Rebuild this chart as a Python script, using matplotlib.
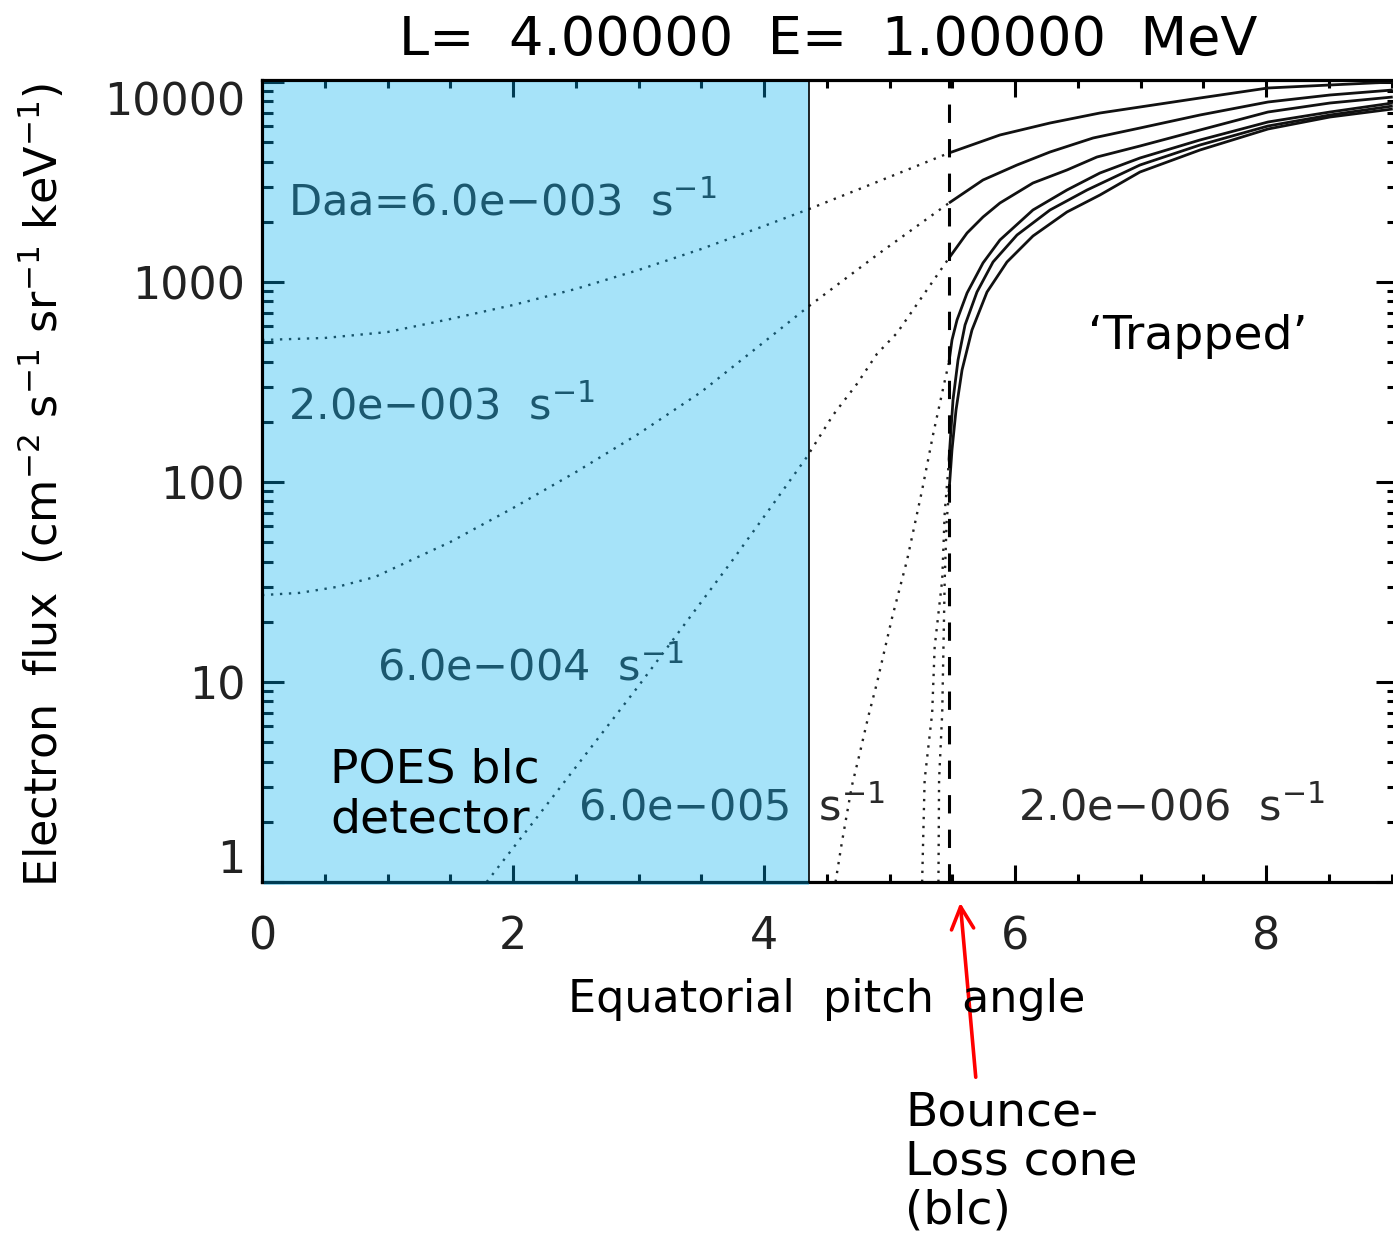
import matplotlib
matplotlib.use("Agg")
import matplotlib.pyplot as plt
from matplotlib.patches import Rectangle
from matplotlib.ticker import LogLocator, MultipleLocator, NullFormatter
import matplotlib.transforms as mtransforms

plt.rcParams['font.family'] = ['DejaVu Sans']
plt.rcParams['mathtext.fontset'] = 'dejavusans'

# ---------------- data ----------------
blc_angle = 5.474          # bounce loss cone edge (deg)
detector_edge = 4.36       # POES blc detector coverage (deg)

# loss-cone (dotted) parts
A_in_x = [0.0, 0.5, 1.0, 1.5, 2.0, 2.5, 3.0, 3.5, 4.0, 4.36, 4.9, 5.474]
A_in_y = [513, 525, 562, 653, 767, 923, 1148, 1462, 1905, 2317, 3162, 4416]
B_in_x = [0.0, 0.3, 0.6, 0.9, 1.19, 1.5, 2.0, 2.5, 3.0, 3.5, 4.0, 4.36, 4.9, 5.474]
B_in_y = [27.2, 27.9, 29.9, 33.5, 40.7, 50.1, 74.1, 112, 174, 282, 501, 759, 1365, 2483]
C_in_x = [1.79, 2.2, 2.6, 3.0, 3.4, 3.75, 4.05, 4.34, 4.55, 4.74, 4.9, 5.06, 5.22, 5.474]
C_in_y = [1.0, 2.14, 4.52, 9.55, 20.7, 40.7, 74.1, 133, 216, 309, 437, 556, 776, 1318]
D_in_x = [4.57, 4.62, 4.70, 4.76, 4.83, 4.90, 5.02, 5.14, 5.26, 5.35, 5.43, 5.474]
D_in_y = [1.0, 1.57, 3.02, 4.32, 6.68, 9.89, 20.9, 40.7, 91.2, 176, 299, 398]
E_in_x = [5.26, 5.28, 5.34, 5.36, 5.42, 5.44, 5.474]
E_in_y = [1.0, 3.24, 7.0, 15.0, 32.4, 70, 129]
F_in_x = [5.39, 5.395, 5.42, 5.43, 5.44, 5.455, 5.474]
F_in_y = [1.0, 3.24, 7.0, 15.0, 32.4, 63, 89]

# trapped (solid) parts
A_out_x = [5.474, 5.88, 6.279, 6.677, 6.996, 7.474, 8.016, 8.51, 9.01]
A_out_y = [4416, 5433, 6237, 6998, 7499, 8318, 9333, 9661, 10000]
B_out_x = [5.474, 5.745, 6.016, 6.279, 6.622, 6.996, 7.474, 8.016, 8.51, 9.01]
B_out_y = [2483, 3236, 3846, 4467, 5248, 5888, 6839, 7943, 8610, 9120]
C_out_x = [5.474, 5.618, 5.745, 5.88, 6.143, 6.414, 6.653, 6.996, 7.474, 8.016, 8.51, 9.01]
C_out_y = [1318, 1758, 2113, 2483, 3126, 3631, 4217, 4786, 5754, 7079, 7852, 8414]
D_out_x = [5.474, 5.498, 5.538, 5.618, 5.745, 5.88, 6.143, 6.414, 6.677, 6.996, 7.474, 8.016, 8.51, 9.01]
D_out_y = [398, 513, 646, 881, 1245, 1622, 2291, 2884, 3508, 4169, 5129, 6310, 7079, 7852]
E_out_x = [5.474, 5.49, 5.506, 5.546, 5.602, 5.697, 5.825, 6.016, 6.279, 6.574, 6.996, 7.474, 8.016, 8.51, 9.01]
E_out_y = [129, 182, 257, 407, 610, 891, 1259, 1718, 2291, 2884, 3846, 4842, 6026, 6839, 7586]
F_out_x = [5.474, 5.498, 5.53, 5.578, 5.657, 5.777, 5.936, 6.143, 6.414, 6.677, 6.996, 7.474, 8.016, 8.51, 9.01]
F_out_y = [89.1, 145, 229, 363, 575, 891, 1259, 1698, 2239, 2723, 3548, 4571, 5821, 6683, 7328]

curve_labels = ['Daa=6.0e\u2212003  s$^{-1}$', '2.0e\u2212003  s$^{-1}$', '6.0e\u2212004  s$^{-1}$',
                '6.0e\u2212005  s$^{-1}$', '2.0e\u2212006  s$^{-1}$']
label_x = [0.207, 0.207, 0.916, 2.518, 6.024]
label_y = [2483, 237, 11.7, 2.34, 2.34]

x_major = [0, 2, 4, 6, 8]
y_major = [1, 10, 100, 1000, 10000]
y_major_labels = ['1', '10', '100', '1000', '10000']

# ---------------- figure ----------------
W, H = 1393, 1248
fig = plt.figure(figsize=(W / 100, H / 100), dpi=100)
ax = fig.add_axes([262 / W, 1 - 882 / H, 9.05 * 125.5 / W, 802 / H])
ax.set_yscale('log')
ax.set_xlim(0, 9.05)
ax.set_ylim(1, 10 ** (802 / 200))

dot_style = (0, (1, 2.8))
ins = [(A_in_x, A_in_y), (B_in_x, B_in_y), (C_in_x, C_in_y), (D_in_x, D_in_y),
       (E_in_x, E_in_y), (F_in_x, F_in_y)]
outs = [(A_out_x, A_out_y), (B_out_x, B_out_y), (C_out_x, C_out_y), (D_out_x, D_out_y),
        (E_out_x, E_out_y), (F_out_x, F_out_y)]
for xs, ys in ins:
    ax.plot(xs, ys, color='#222222', lw=1.7, linestyle=dot_style, zorder=2)
for xs, ys in outs:
    ax.plot(xs, ys, color='#111111', lw=2.0, solid_capstyle='butt',
            solid_joinstyle='round', zorder=2)

ax.axvline(blc_angle, color='black', lw=2.2, linestyle=(0, (6, 5.3)), zorder=2.3)

for t, lx, ly in zip(curve_labels, label_x, label_y):
    ax.text(lx, ly, t, fontsize=31, color='#2a2a2a', ha='left', va='center', zorder=2.1)

# ticks
ax.set_xticks(x_major)
ax.set_xticklabels([str(v) for v in x_major])
ax.xaxis.set_minor_locator(MultipleLocator(0.5))
ax.set_yticks(y_major)
ax.set_yticklabels(y_major_labels)
ax.yaxis.set_minor_locator(LogLocator(base=10, subs=range(2, 10), numticks=20))
ax.yaxis.set_minor_formatter(NullFormatter())
ax.tick_params(which='both', direction='in', top=True, right=True, width=2.2, colors='black',
               labelcolor='#222222', labelsize=32)
ax.tick_params(axis='x', which='major', length=12.2, pad=24)
ax.tick_params(axis='x', which='minor', length=5.8)
ax.tick_params(axis='y', which='major', length=15.8, pad=12)
ax.tick_params(axis='y', which='minor', length=7.9)
for sp in ax.spines.values():
    sp.set_linewidth(2.3)

for tk in ax.yaxis.get_major_ticks():
    if tk.label1.get_text() == '10000':
        tk.label1.set_va('top')
    elif tk.label1.get_text() == '1':
        tk.label1.set_va('bottom')

# POES detector overlay
trans = mtransforms.blended_transform_factory(ax.transData, ax.transAxes)
ax.add_patch(Rectangle((0.012, -0.004), detector_edge - 0.012, 1.002, transform=trans,
                       facecolor=(0.0, 0.686, 0.941), alpha=0.35, edgecolor='none',
                       zorder=2.6, clip_on=False))
ax.plot([detector_edge, detector_edge], [0, 1], transform=trans, color='black', lw=1.2,
        zorder=2.7, clip_on=False)

ax.text(0.542, 2.72, 'POES blc\ndetector', fontsize=34, color='black', ha='left',
        va='center', linespacing=1.12, zorder=3)
ax.text(6.58, 531, '\u2018Trapped\u2019', fontsize=34, color='black', ha='left',
        va='center', zorder=3)

# titles / axis labels
fig.text(828 / W, 1 - 55 / H, 'L=  4.00000  E=  1.00000  MeV', fontsize=39,
         ha='center', va='baseline', color='black')
fig.text(827 / W, 1 - 1012 / H, 'Equatorial  pitch  angle', fontsize=32,
         ha='center', va='baseline', color='black')
fig.text(42 / W, 1 - 485 / H,
         'Electron  flux  (cm$^{-2}$ s$^{-1}$ sr$^{-1}$ keV$^{-1}$)', fontsize=32,
         rotation=90, ha='center', va='center', color='black')

fig.text(905 / W, 1 - 1090 / H, 'Bounce-\nLoss cone\n(blc)', fontsize=34, ha='left',
         va='top', linespacing=1.12, color='black')
fig.add_artist(matplotlib.patches.FancyArrowPatch(
    (976 / W, 1 - 1080 / H), (960 / W, 1 - 900 / H), transform=fig.transFigure,
    arrowstyle='->,head_length=0.4,head_width=0.2', mutation_scale=40,
    color='red', lw=2.6))

fig.savefig('out.png', dpi=100)
